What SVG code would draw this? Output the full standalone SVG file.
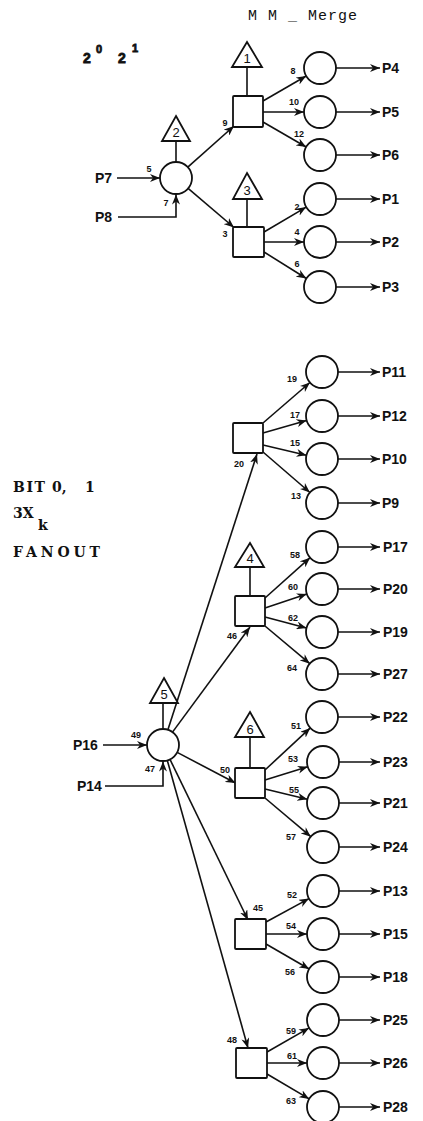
<svg xmlns="http://www.w3.org/2000/svg" width="423" height="1121" viewBox="0 0 423 1121">
<style>
.n{fill:#fff;stroke:#111;stroke-width:1.8}
.c{fill:none;stroke:#111;stroke-width:1.6}
.a{marker-end:url(#ah)}
.p{font-family:"Liberation Sans",Arial,sans-serif;font-weight:bold;font-size:14px;fill:#111}
.s{font-family:"Liberation Sans",Arial,sans-serif;font-weight:bold;font-size:9px;fill:#111;text-anchor:middle}
.t{font-family:"Liberation Sans",Arial,sans-serif;font-size:13px;fill:#111;text-anchor:middle}
.b{font-family:"DejaVu Serif","Liberation Serif",serif;font-weight:bold;font-size:14px;fill:#111}
.e{font-family:"Liberation Sans",Arial,sans-serif;font-weight:bold;fill:#111;stroke:#111;stroke-width:0.8}
.m{font-family:"Liberation Mono","Courier New",monospace;font-size:15px;fill:#111;letter-spacing:1px}
</style>
<defs>
<marker id="ah" markerUnits="userSpaceOnUse" markerWidth="10" markerHeight="8" refX="10" refY="4" orient="auto">
<path d="M0,0 L10,4 L0,8 L3,4 z" fill="#111"/>
</marker>
</defs>
<rect width="423" height="1121" fill="#fff"/>

<g id="titles">
<text class="m" x="248" y="20">M M _ Merge</text>
<text class="e" x="83" y="63" font-size="14">2</text>
<text class="e" x="96" y="53" font-size="11">0</text>
<text class="e" x="118" y="63" font-size="14">2</text>
<text class="e" x="132" y="52" font-size="11">1</text>
<text class="b" y="492"><tspan x="13" textLength="32" lengthAdjust="spacing">BIT</tspan><tspan x="52">0,</tspan><tspan x="85">1</tspan></text>
<text class="b" x="13" y="518">3X</text>
<text class="b" x="38" y="530">k</text>
<text class="b" x="13" y="557" textLength="87" lengthAdjust="spacing">FANOUT</text>
</g>

<g id="connectors">
<line class="c a" x1="117" y1="178" x2="160" y2="178"/>
<polyline class="c a" points="118,217 176,217 176,194.5"/>
<line class="c" x1="176" y1="141" x2="176" y2="162"/>
<line class="c a" x1="187.8" y1="167.2" x2="234" y2="126"/>
<line class="c a" x1="188.1" y1="188.4" x2="234" y2="227.5"/>
<line class="c" x1="247" y1="67" x2="247" y2="96"/>
<line class="c" x1="247" y1="199" x2="247" y2="227"/>
<line class="c a" x1="263" y1="101" x2="306.2" y2="76"/>
<line class="c a" x1="263" y1="112" x2="304" y2="112"/>
<line class="c a" x1="263" y1="122" x2="306.2" y2="147"/>
<line class="c a" x1="264" y1="232" x2="306.2" y2="207.1"/>
<line class="c a" x1="264" y1="242" x2="304" y2="242"/>
<line class="c a" x1="264" y1="252" x2="306.4" y2="278.5"/>
<line class="c a" x1="336" y1="68" x2="380" y2="68"/>
<line class="c a" x1="336" y1="112" x2="380" y2="112"/>
<line class="c a" x1="336" y1="155" x2="380" y2="155"/>
<line class="c a" x1="336" y1="199" x2="380" y2="199"/>
<line class="c a" x1="336" y1="242" x2="380" y2="242"/>
<line class="c a" x1="336" y1="287" x2="380" y2="287"/>
<line class="c a" x1="103" y1="745" x2="147" y2="745"/>
<polyline class="c a" points="105,786 163,786 163,761.5"/>
<line class="c" x1="163" y1="703" x2="163" y2="729"/>
<line class="c a" x1="167.9" y1="729.8" x2="257" y2="454"/>
<line class="c a" x1="172.5" y1="732.1" x2="250" y2="627"/>
<line class="c a" x1="177.2" y1="752.4" x2="235.5" y2="783"/>
<line class="c a" x1="170" y1="759.4" x2="248" y2="920"/>
<line class="c a" x1="167.3" y1="760.4" x2="248" y2="1048"/>
<line class="c" x1="250" y1="567" x2="250" y2="596"/>
<line class="c" x1="250" y1="737" x2="250" y2="768"/>
<line class="c a" x1="263" y1="423" x2="309.9" y2="382.5"/>
<line class="c a" x1="263" y1="433" x2="306.6" y2="420.4"/>
<line class="c a" x1="263" y1="445" x2="306.4" y2="455.3"/>
<line class="c a" x1="263" y1="452" x2="309.9" y2="492.5"/>
<line class="c a" x1="265" y1="598" x2="310.1" y2="557.7"/>
<line class="c a" x1="265" y1="608" x2="306.8" y2="594.1"/>
<line class="c a" x1="265" y1="617" x2="306.5" y2="627.9"/>
<line class="c a" x1="265" y1="626" x2="309.8" y2="663.7"/>
<line class="c a" x1="265" y1="770" x2="310.3" y2="727.9"/>
<line class="c a" x1="265" y1="780" x2="307.7" y2="766.8"/>
<line class="c a" x1="265" y1="789" x2="307.4" y2="799.2"/>
<line class="c a" x1="265" y1="798" x2="310.8" y2="836.7"/>
<line class="c a" x1="266" y1="922" x2="309" y2="898.6"/>
<line class="c a" x1="266" y1="934" x2="307" y2="934"/>
<line class="c a" x1="266" y1="944" x2="309.2" y2="969"/>
<line class="c a" x1="267" y1="1052" x2="309.1" y2="1027.9"/>
<line class="c a" x1="267" y1="1063" x2="307" y2="1063"/>
<line class="c a" x1="267" y1="1074" x2="309.2" y2="1098.9"/>
<line class="c a" x1="338" y1="372" x2="380" y2="372"/>
<line class="c a" x1="338" y1="416" x2="380" y2="416"/>
<line class="c a" x1="338" y1="459" x2="380" y2="459"/>
<line class="c a" x1="338" y1="503" x2="380" y2="503"/>
<line class="c a" x1="338" y1="547" x2="380" y2="547"/>
<line class="c a" x1="338" y1="589" x2="380" y2="589"/>
<line class="c a" x1="338" y1="632" x2="380" y2="632"/>
<line class="c a" x1="338" y1="674" x2="380" y2="674"/>
<line class="c a" x1="338" y1="717" x2="380" y2="717"/>
<line class="c a" x1="339" y1="762" x2="380" y2="762"/>
<line class="c a" x1="339" y1="803" x2="380" y2="803"/>
<line class="c a" x1="339" y1="847" x2="380" y2="847"/>
<line class="c a" x1="339" y1="891" x2="380" y2="891"/>
<line class="c a" x1="339" y1="934" x2="380" y2="934"/>
<line class="c a" x1="339" y1="977" x2="380" y2="977"/>
<line class="c a" x1="339" y1="1020" x2="380" y2="1020"/>
<line class="c a" x1="339" y1="1063" x2="380" y2="1063"/>
<line class="c a" x1="339" y1="1107" x2="380" y2="1107"/>
</g>

<g id="edge-labels">
<text class="s" x="293" y="74">8</text>
<text class="s" x="294" y="105">10</text>
<text class="s" x="299" y="137">12</text>
<text class="s" x="225" y="126">9</text>
<text class="s" x="149" y="172">5</text>
<text class="s" x="166" y="206">7</text>
<text class="s" x="225" y="237">3</text>
<text class="s" x="297" y="210">2</text>
<text class="s" x="297" y="235">4</text>
<text class="s" x="297" y="267">6</text>
<text class="s" x="292" y="382">19</text>
<text class="s" x="295" y="418">17</text>
<text class="s" x="295" y="446">15</text>
<text class="s" x="296" y="499">13</text>
<text class="s" x="239" y="467">20</text>
<text class="s" x="295" y="558">58</text>
<text class="s" x="293" y="590">60</text>
<text class="s" x="293" y="621">62</text>
<text class="s" x="292" y="671">64</text>
<text class="s" x="232" y="639">46</text>
<text class="s" x="296" y="729">51</text>
<text class="s" x="136" y="738">49</text>
<text class="s" x="150" y="772">47</text>
<text class="s" x="225" y="773">50</text>
<text class="s" x="293" y="762">53</text>
<text class="s" x="294" y="793">55</text>
<text class="s" x="291" y="840">57</text>
<text class="s" x="258" y="911">45</text>
<text class="s" x="292" y="898">52</text>
<text class="s" x="291" y="929">54</text>
<text class="s" x="290" y="975">56</text>
<text class="s" x="232" y="1043">48</text>
<text class="s" x="291" y="1034">59</text>
<text class="s" x="292" y="1059">61</text>
<text class="s" x="291" y="1104">63</text>
</g>

<g id="inputs">
<text class="p" x="95" y="183">P7</text>
<text class="p" x="95" y="222">P8</text>
<text class="p" x="73" y="750">P16</text>
<text class="p" x="77" y="791">P14</text>
</g>

<g id="tri1"><polygon class="n" points="247,42 262,67 232,67"/><text class="t" x="247" y="63">1</text></g>
<g id="tri2"><polygon class="n" points="176,116 190,141 162,141"/><text class="t" x="176" y="137">2</text></g>
<g id="tri3"><polygon class="n" points="247,173 262,199 233,199"/><text class="t" x="247" y="195">3</text></g>
<g id="tri4"><polygon class="n" points="250,543 264,567 235,567"/><text class="t" x="250" y="563">4</text></g>
<g id="tri5"><polygon class="n" points="164,678 178,703 150,703"/><text class="t" x="164" y="699">5</text></g>
<g id="tri6"><polygon class="n" points="250,712 264,737 235,737"/><text class="t" x="250" y="734">6</text></g>

<g id="circle2"><circle class="n" cx="176" cy="178" r="16"/></g>
<g id="circle5"><circle class="n" cx="163" cy="745" r="16"/></g>

<g id="sq1"><rect class="n" x="233" y="96" width="30" height="31" rx="1"/></g>
<g id="sq3"><rect class="n" x="233" y="227" width="31" height="30" rx="1"/></g>
<g id="sq20"><rect class="n" x="233" y="423" width="30" height="30" rx="1"/></g>
<g id="sq4"><rect class="n" x="235" y="596" width="30" height="30" rx="1"/></g>
<g id="sq6"><rect class="n" x="235" y="768" width="30" height="30" rx="1"/></g>
<g id="sq45"><rect class="n" x="235" y="919" width="31" height="30" rx="1"/></g>
<g id="sq48"><rect class="n" x="236" y="1048" width="31" height="30" rx="1"/></g>

<g id="out-P4"><circle class="n" cx="320" cy="68" r="16"/><text class="p" x="382" y="73">P4</text></g>
<g id="out-P5"><circle class="n" cx="320" cy="112" r="16"/><text class="p" x="382" y="117">P5</text></g>
<g id="out-P6"><circle class="n" cx="320" cy="155" r="16"/><text class="p" x="382" y="160">P6</text></g>
<g id="out-P1"><circle class="n" cx="320" cy="199" r="16"/><text class="p" x="382" y="204">P1</text></g>
<g id="out-P2"><circle class="n" cx="320" cy="242" r="16"/><text class="p" x="382" y="247">P2</text></g>
<g id="out-P3"><circle class="n" cx="320" cy="287" r="16"/><text class="p" x="382" y="292">P3</text></g>
<g id="out-P11"><circle class="n" cx="322" cy="372" r="16"/><text class="p" x="382" y="377">P11</text></g>
<g id="out-P12"><circle class="n" cx="322" cy="416" r="16"/><text class="p" x="382" y="421">P12</text></g>
<g id="out-P10"><circle class="n" cx="322" cy="459" r="16"/><text class="p" x="382" y="464">P10</text></g>
<g id="out-P9"><circle class="n" cx="322" cy="503" r="16"/><text class="p" x="382" y="508">P9</text></g>
<g id="out-P17"><circle class="n" cx="322" cy="547" r="16"/><text class="p" x="383" y="552">P17</text></g>
<g id="out-P20"><circle class="n" cx="322" cy="589" r="16"/><text class="p" x="383" y="594">P20</text></g>
<g id="out-P19"><circle class="n" cx="322" cy="632" r="16"/><text class="p" x="383" y="637">P19</text></g>
<g id="out-P27"><circle class="n" cx="322" cy="674" r="16"/><text class="p" x="383" y="679">P27</text></g>
<g id="out-P22"><circle class="n" cx="322" cy="717" r="16"/><text class="p" x="383" y="722">P22</text></g>
<g id="out-P23"><circle class="n" cx="323" cy="762" r="16"/><text class="p" x="383" y="767">P23</text></g>
<g id="out-P21"><circle class="n" cx="323" cy="803" r="16"/><text class="p" x="383" y="808">P21</text></g>
<g id="out-P24"><circle class="n" cx="323" cy="847" r="16"/><text class="p" x="383" y="852">P24</text></g>
<g id="out-P13"><circle class="n" cx="323" cy="891" r="16"/><text class="p" x="383" y="896">P13</text></g>
<g id="out-P15"><circle class="n" cx="323" cy="934" r="16"/><text class="p" x="383" y="939">P15</text></g>
<g id="out-P18"><circle class="n" cx="323" cy="977" r="16"/><text class="p" x="383" y="982">P18</text></g>
<g id="out-P25"><circle class="n" cx="323" cy="1020" r="16"/><text class="p" x="383" y="1025">P25</text></g>
<g id="out-P26"><circle class="n" cx="323" cy="1063" r="16"/><text class="p" x="383" y="1068">P26</text></g>
<g id="out-P28"><circle class="n" cx="323" cy="1107" r="16"/><text class="p" x="383" y="1112">P28</text></g>
</svg>
